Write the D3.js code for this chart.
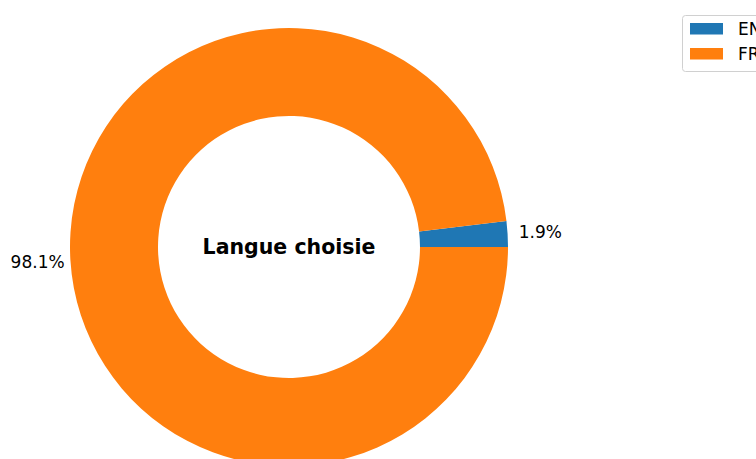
<!DOCTYPE html>
<html>
<head>
<meta charset="utf-8">
<script src="https://cdn.jsdelivr.net/npm/d3@7"></script>
<style>
  html, body { margin: 0; padding: 0; background: #fff; }
  svg { display: block; font-family: "DejaVu Sans", sans-serif; }
</style>
</head>
<body>
<svg id="chart" width="756" height="459"></svg>
<script>
// Language choice split
const categories = ["EN", "FR"];
const shares = [1.9, 98.1];
const colors = ["#1f77b4", "#ff7f0e"];
const centerTitle = "Langue choisie";

const svg = d3.select("#chart");
const cx = 289, cy = 247;
const outerR = 219, innerR = 131;

const color = d3.scaleOrdinal().domain(categories).range(colors);

// Counter-clockwise from the east (3 o'clock), like a classic pie start angle of 0
const pie = d3.pie()
  .value(d => d.v)
  .sort(null)
  .startAngle(Math.PI / 2)
  .endAngle(Math.PI / 2 - 2 * Math.PI);

const data = categories.map((c, i) => ({ c, v: shares[i] }));
const arcs = pie(data);

const arc = d3.arc().innerRadius(innerR).outerRadius(outerR);

const g = svg.append("g").attr("transform", `translate(${cx},${cy})`);

g.selectAll("path.slice")
  .data(arcs)
  .join("path")
  .attr("class", "slice")
  .attr("d", arc)
  .attr("fill", d => color(d.data.c));

// Percentage labels just outside the ring
const labelR = outerR * 1.15;
g.selectAll("text.pct")
  .data(arcs)
  .join("text")
  .attr("class", "pct")
  .attr("x", d => {
    const a = (d.startAngle + d.endAngle) / 2;
    return labelR * Math.sin(a);
  })
  .attr("y", d => {
    const a = (d.startAngle + d.endAngle) / 2;
    return -labelR * Math.cos(a);
  })
  .attr("text-anchor", "middle")
  .attr("dominant-baseline", "central")
  .attr("font-size", 17)
  .attr("fill", "#000")
  .text(d => d.data.v.toFixed(1) + "%");

// Centre title
g.append("text")
  .attr("x", 0)
  .attr("y", 0)
  .attr("text-anchor", "middle")
  .attr("dominant-baseline", "central")
  .attr("font-size", 20.5)
  .attr("font-weight", "bold")
  .attr("fill", "#000")
  .text(centerTitle);

// Legend
const legend = svg.append("g").attr("transform", "translate(682,15)");
legend.append("rect")
  .attr("x", 0.5).attr("y", 0.5)
  .attr("width", 100).attr("height", 56)
  .attr("rx", 3)
  .attr("fill", "#fff")
  .attr("stroke", "#d0d0d0")
  .attr("stroke-width", 1);

const items = legend.selectAll("g.item")
  .data(categories)
  .join("g")
  .attr("class", "item")
  .attr("transform", (d, i) => `translate(8,${8 + i * 25})`);

items.append("rect")
  .attr("width", 33)
  .attr("height", 11.5)
  .attr("fill", d => color(d));

items.append("text")
  .attr("x", 48)
  .attr("y", 6)
  .attr("dominant-baseline", "central")
  .attr("font-size", 17)
  .attr("fill", "#000")
  .text(d => d);
</script>
</body>
</html>
